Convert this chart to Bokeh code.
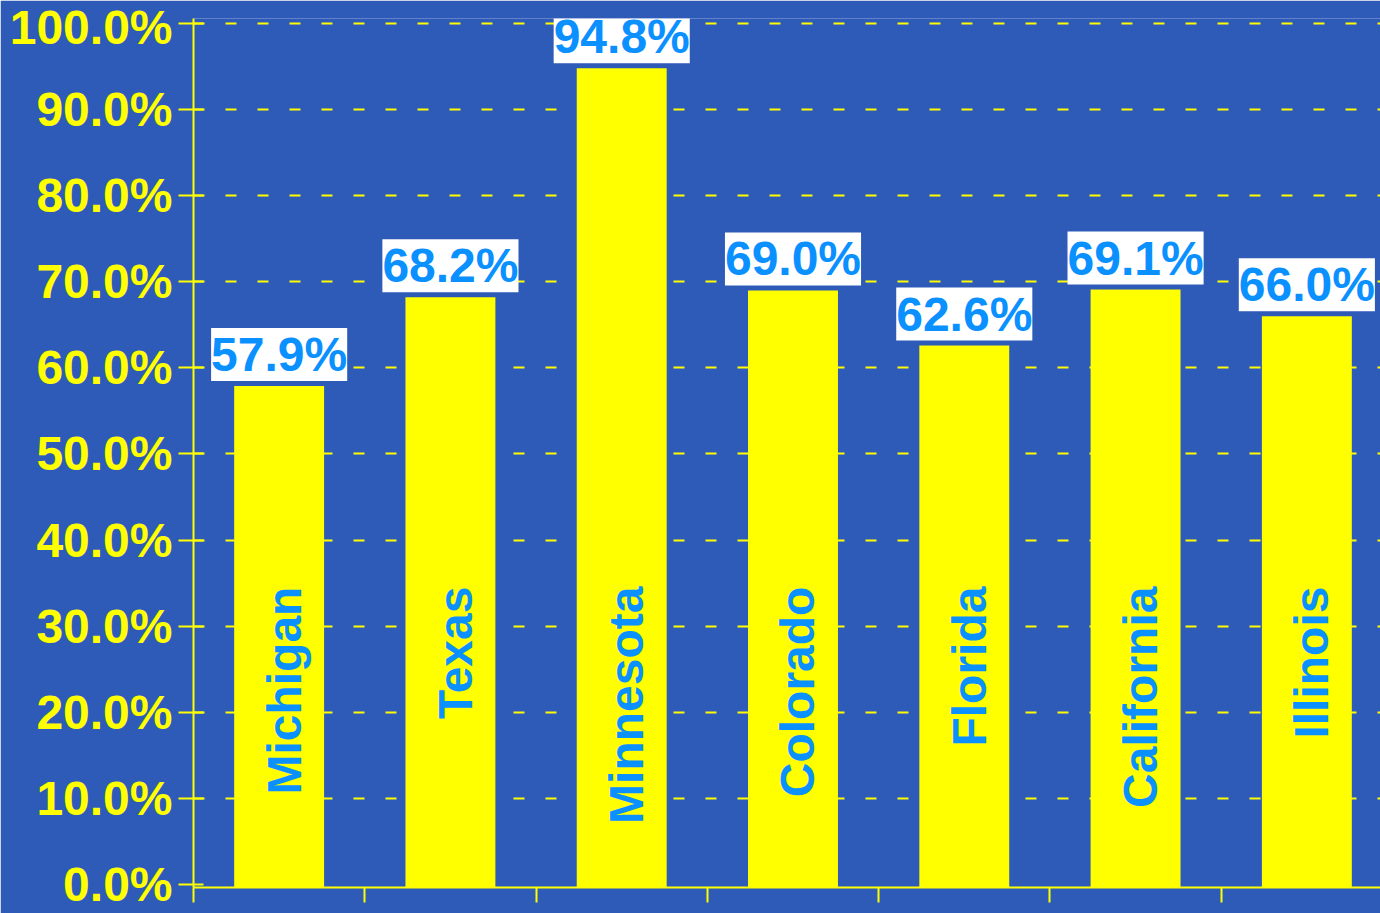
from bokeh.plotting import figure
from bokeh.models import ColumnDataSource, Range1d, FixedTicker, PrintfTickFormatter, CustomLabelingPolicy
from bokeh.core.properties import value
from bokeh.embed import file_html
from bokeh.resources import INLINE

states = ["Michigan", "Texas", "Minnesota", "Colorado", "Florida", "California", "Illinois"]
rates = [57.9, 68.2, 94.8, 69.0, 62.6, 69.1, 66.0]
y_ticks = [0, 10, 20, 30, 40, 50, 60, 70, 80, 90, 100]

BG = "#2e5ab8"
YEL = "#ffff00"
BLUE = "#0a90ff"
FONT = "Liberation Sans"
FS = "48px"

xs = list(range(len(states)))
src = ColumnDataSource(dict(
    x=xs,
    rate=rates,
    state=states,
    lbl=[f"{v:.1f}%" for v in rates],
))

p = figure(width=1380, height=913, output_backend="svg", toolbar_location=None,
           x_range=Range1d(-0.5, 6.43), y_range=Range1d(-0.35, 100.58),
           min_border_left=193, min_border_right=0, min_border_top=18, min_border_bottom=23)
p.background_fill_color = BG
p.border_fill_color = BG
p.outline_line_color = None

# grid
p.xgrid.visible = False
p.ygrid.ticker = FixedTicker(ticks=y_ticks[1:])
p.ygrid.grid_line_color = YEL
p.ygrid.grid_line_width = 2
p.ygrid.grid_line_dash = "11 21"

# bars
p.vbar(x="x", top="rate", bottom=-0.35, width=0.525, source=src,
       fill_color=YEL, line_color=None)

# value labels
p.text(x="x", y="rate", text="lbl", source=src, text_align="center",
       text_baseline="bottom", y_offset=-5,
       text_font=value(FONT), text_font_style="bold", text_font_size=FS,
       text_color=BLUE, background_fill_color="white", padding=0,
       text_line_height=1.0)

# state names (vertical inside bars)
p.text(x="x", y=34.6, text="state", source=src, angle=90, angle_units="deg",
       text_align="right", text_baseline="middle", x_offset=5,
       text_font=value(FONT), text_font_style="bold", text_font_size=FS,
       text_color=BLUE)

# y axis
ya = p.yaxis[0]
ya.ticker = FixedTicker(ticks=y_ticks)
ya.formatter = PrintfTickFormatter(format="%.1f%%")
ya.axis_line_color = YEL
ya.axis_line_width = 2
ya.major_tick_line_color = YEL
ya.major_tick_line_width = 2
ya.major_tick_out = 15
ya.major_tick_in = 10
ya.minor_tick_line_color = None
ya.major_label_text_color = YEL
ya.major_label_text_font = FONT
ya.major_label_text_font_style = "bold"
ya.major_label_text_font_size = FS
ya.major_label_standoff = 6

# x axis (ticks only, no labels)
xa = p.xaxis[0]
xa.ticker = FixedTicker(ticks=[i - 0.5 for i in range(len(states) + 1)])
xa.axis_line_color = YEL
xa.axis_line_width = 2
xa.major_tick_line_color = YEL
xa.major_tick_line_width = 2
xa.major_tick_out = 15
xa.major_tick_in = 0
xa.minor_tick_line_color = None
xa.major_label_policy = CustomLabelingPolicy(code="""
    for (const i of Array.from(indices)) indices.unset(i)
    return indices
""")
xa.major_label_standoff = 0

open("out.html", "w").write(file_html(p, INLINE))
